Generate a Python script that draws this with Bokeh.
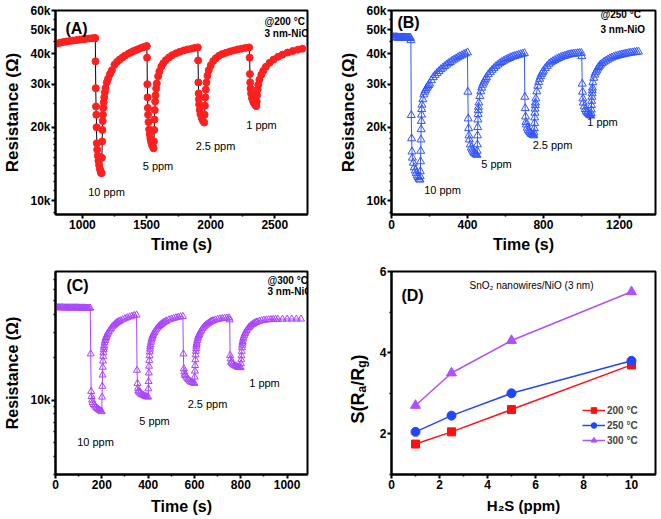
import math
from bokeh.plotting import figure
from bokeh.models import (Range1d, FixedTicker, Label, Legend, LegendItem,
                          ColumnDataSource, GridBox)
from bokeh.embed import file_html
from bokeh.resources import INLINE

# ---------------- data (time in s, resistance in kOhm) ----------------
A_time = [800, 825, 850, 875, 900, 925, 950, 975, 1000, 1025, 1050, 1075, 1098,
          1100, 1102, 1104, 1106, 1108, 1110, 1112, 1115, 1120, 1125, 1130, 1135, 1140, 1145, 1150,
          1152, 1154, 1156, 1158, 1160, 1163, 1166, 1170, 1175, 1180, 1190, 1200, 1215, 1230,
          1250, 1270, 1290, 1310, 1330, 1360, 1380, 1400, 1420, 1440, 1460, 1480, 1500,
          1502, 1504, 1506, 1508, 1510, 1512, 1515, 1520, 1525, 1530, 1535, 1540, 1545, 1550, 1555,
          1558, 1560, 1562, 1564, 1567, 1570, 1575, 1580, 1590, 1600, 1615, 1630, 1650, 1675,
          1700, 1730, 1760, 1790, 1820, 1850, 1875, 1900,
          1902, 1904, 1906, 1908, 1910, 1915, 1920, 1930, 1940, 1950,
          1953, 1955, 1958, 1962, 1967, 1975, 1985, 2000, 2020, 2040, 2065, 2090, 2120, 2150,
          2180, 2210, 2240, 2270, 2300,
          2304, 2306, 2308, 2311, 2315, 2322, 2332, 2342, 2352, 2356,
          2359, 2362, 2366, 2371, 2380, 2395, 2410, 2430, 2460, 2490, 2525, 2560, 2600, 2640,
          2680, 2715]
A_res_k = [44.0, 44.3, 44.6, 44.8, 45.0, 45.2, 45.4, 45.6, 45.8, 45.9, 46.1, 46.2, 46.3,
           46.2, 37.2, 28.9, 24.3, 22.5, 20.0, 17.2, 16.2, 15.3, 14.6, 14.0, 13.6, 13.3, 13.0, 13.0,
           15.0, 17.5, 19.5, 21.2, 22.5, 24.0, 25.3, 26.5, 27.8, 28.9, 30.5, 31.6, 33.0, 34.2,
           36.0, 37.0, 37.8, 38.5, 39.2, 40.0, 40.5, 41.0, 41.4, 41.8, 42.2, 42.6, 42.9,
           42.9, 38.5, 30.0, 26.5, 24.0, 22.5, 21.0, 19.6, 18.7, 18.0, 17.5, 17.1, 16.8, 16.6, 16.4,
           17.5, 19.5, 21.5, 23.5, 25.5, 27.0, 28.8, 30.2, 32.3, 33.8, 35.4, 36.5, 37.6, 38.6,
           39.4, 40.1, 40.7, 41.2, 41.6, 41.9, 42.2, 42.4,
           37.5, 30.5, 27.5, 26.0, 24.8, 23.5, 22.6, 21.8, 21.2, 20.9,
           22.5, 24.5, 26.5, 28.5, 30.5, 32.5, 34.2, 35.8, 37.3, 38.3, 39.2, 39.8, 40.3, 40.8,
           41.2, 41.6, 41.9, 42.2, 42.4,
           38.5, 33.0, 30.5, 28.8, 27.5, 26.3, 25.4, 24.9, 24.5, 24.4,
           25.5, 27.0, 28.5, 29.8, 31.3, 32.8, 34.0, 35.3, 36.7, 37.8, 38.8, 39.6, 40.4, 41.0,
           41.5, 41.9]

B_time = [0, 5, 10, 15, 20, 25, 30, 35, 40, 45, 50, 55, 60, 65, 70, 75, 80, 85, 90, 95, 100,
          102, 104, 106, 108, 110, 115, 120, 125, 130, 135, 140, 145, 150,
          151, 152, 153, 154, 155, 156, 157, 158, 159, 160, 165, 170, 175, 180, 185, 190, 195,
          200, 210, 220, 230, 240, 250, 260, 270, 280, 290, 300, 310, 320, 330, 340, 350, 360,
          370, 380, 390, 400,
          402, 404, 406, 408, 410, 415, 420, 425, 430, 435, 440, 445, 450,
          451, 452, 453, 454, 455, 456, 457, 458, 460, 465, 470, 475, 480, 485, 490, 495, 500,
          510, 520, 530, 540, 550, 560, 570, 580, 590, 600, 610, 620, 630, 640, 650, 660, 670,
          680, 690, 700,
          702, 704, 706, 708, 710, 715, 720, 725, 730, 735, 740, 745, 750,
          751, 752, 753, 754, 755, 756, 757, 758, 760, 765, 770, 775, 780, 785, 790, 795, 800,
          810, 820, 830, 840, 850, 860, 870, 880, 890, 900, 910, 920, 930, 940, 950, 960, 970,
          980, 990, 1000,
          1002, 1004, 1006, 1008, 1010, 1015, 1020, 1025, 1030, 1035, 1040, 1045, 1050,
          1051, 1052, 1053, 1054, 1055, 1056, 1057, 1058, 1060, 1065, 1070, 1075, 1080, 1085,
          1090, 1095, 1100, 1110, 1120, 1130, 1140, 1150, 1160, 1170, 1180, 1190, 1200, 1210,
          1220, 1230, 1240, 1250, 1260, 1270, 1280, 1290, 1300]
B_res_k = [46.6, 46.6, 46.6, 46.6, 46.6, 46.6, 46.6, 46.5, 46.5, 46.5, 46.5, 46.5, 46.5, 46.5,
           46.5, 46.5, 46.4, 46.4, 46.4, 46.4, 46.3,
           45.3, 22.4, 18.0, 15.9, 15.0, 14.3, 13.7, 13.3, 13.0, 12.7, 12.5, 12.3, 12.2,
           12.6, 13.2, 14.5, 16.0, 17.8, 19.6, 21.2, 22.5, 23.7, 24.7, 26.0, 27.2, 27.9, 28.4,
           28.9, 29.3, 29.7,
           30.1, 31.1, 32.0, 32.7, 33.3, 33.9, 34.5, 35.0, 35.5, 36.0, 36.5, 36.9, 37.4, 37.8,
           38.2, 38.6, 39.0, 39.3, 39.7, 40.0, 40.4,
           27.9, 21.7, 19.8, 18.5, 17.8, 17.0, 16.5, 16.2, 15.9, 15.7, 15.6, 15.5, 15.4,
           16.0, 17.0, 18.5, 20.0, 21.5, 22.6, 23.5, 24.2, 25.2, 26.8, 28.0, 29.0, 29.8, 30.4,
           31.0, 31.5, 32.0,
           32.9, 33.6, 34.3, 34.9, 35.5, 36.0, 36.5, 36.9, 37.3, 37.7, 38.0, 38.3, 38.6, 38.9,
           39.1, 39.3, 39.5, 39.7, 39.9, 40.1,
           26.6, 23.9, 22.1, 21.0, 20.5, 19.9, 19.5, 19.2, 19.0, 18.8, 18.7, 18.6, 18.5,
           19.0, 19.8, 20.8, 21.9, 22.9, 23.8, 24.6, 25.2, 26.2, 28.0, 29.5, 30.6, 31.5, 32.3,
           33.0, 33.5, 34.0,
           34.9, 35.6, 36.3, 36.8, 37.2, 37.6, 38.0, 38.3, 38.6, 38.9, 39.1, 39.3, 39.5, 39.7,
           39.8, 39.9, 40.0, 40.1, 40.2, 40.2,
           39.0, 30.1, 27.9, 26.2, 25.2, 24.3, 23.7, 23.3, 23.0, 22.8, 22.6, 22.4, 22.3,
           22.8, 23.6, 24.6, 25.6, 26.6, 27.5, 28.3, 29.0, 30.5, 31.8, 32.8, 33.5, 34.1, 34.7,
           35.2, 35.6, 36.0, 36.5, 37.0, 37.4, 37.8, 38.2, 38.5, 38.8, 39.0, 39.2, 39.4, 39.6,
           39.7, 39.9, 40.0, 40.2, 40.3, 40.4, 40.5, 40.6, 40.7]

C_time = [0, 5, 10, 15, 20, 25, 30, 35, 40, 45, 50, 55, 60, 65, 70, 75, 80, 85, 90, 95, 100,
          105, 110, 115, 120, 125, 130, 135, 140, 145, 150,
          152, 154, 156, 158, 160, 165, 170, 175, 180, 185, 190, 195, 200,
          201, 202, 203, 204, 205, 206, 207, 208, 209, 210, 212, 214, 216, 218, 220, 223, 226,
          230, 235, 240, 245, 250, 255, 260, 265, 270, 275, 280, 290, 300, 310, 320, 330, 340,
          350,
          352, 354, 356, 358, 360, 365, 370, 375, 380, 385, 390, 395, 400,
          401, 402, 403, 404, 405, 406, 407, 408, 409, 410, 412, 414, 416, 418, 420, 423, 426,
          430, 435, 440, 445, 450, 455, 460, 465, 470, 475, 480, 490, 500, 510, 520, 530, 540,
          550,
          552, 554, 556, 558, 560, 565, 570, 575, 580, 585, 590, 595, 600,
          601, 602, 603, 604, 605, 606, 607, 608, 609, 610, 612, 614, 616, 618, 620, 623, 626,
          630, 635, 640, 645, 650, 655, 660, 665, 670, 675, 680, 690, 700, 710, 720, 730, 740,
          750,
          752, 754, 756, 758, 760, 765, 770, 775, 780, 785, 790, 795, 800,
          801, 802, 803, 804, 805, 806, 807, 808, 810, 812, 815, 818, 821, 825, 830, 835, 840,
          845, 850, 855, 860, 865, 870, 880, 890, 900, 910, 920, 930, 940, 950, 960, 980, 1000,
          1020, 1040, 1060]
C_res_k = [44.6, 44.6, 44.6, 44.6, 44.6, 44.6, 44.6, 44.5, 44.5, 44.5, 44.5, 44.5, 44.5, 44.5,
           44.5, 44.5, 44.5, 44.5, 44.5, 44.5, 44.4, 44.4, 44.4, 44.4, 44.4, 44.4, 44.4, 44.3,
           44.3, 44.3, 44.3,
           21.1, 11.5, 10.6, 10.0, 9.6, 9.3, 9.1, 8.9, 8.75, 8.6, 8.5, 8.4, 8.3,
           10.5, 12.5, 15.0, 17.0, 18.8, 20.3, 21.5, 22.6, 23.5, 24.2, 25.3, 26.2, 26.9, 27.5,
           28.1, 28.8, 29.5,
           30.2, 31.1, 31.9, 32.7, 33.3, 33.9, 34.5, 35.0, 35.4, 35.8, 36.1, 36.7, 37.3, 37.9,
           38.4, 38.9, 39.3, 39.6,
           16.2, 13.1, 12.1, 11.6, 11.4, 11.2, 11.0, 10.9, 10.8, 10.7, 10.6, 10.55, 10.5,
           12.0, 13.5, 15.5, 17.3, 19.0, 20.5, 21.8, 22.8, 23.7, 24.4, 25.5, 26.4, 27.1, 27.8,
           28.4, 29.1, 29.8,
           30.5, 31.4, 32.1, 32.8, 33.4, 33.9, 34.4, 34.9, 35.3, 35.7, 36.0, 36.6, 37.1, 37.5,
           37.9, 38.2, 38.5, 38.7,
           21.1, 16.6, 15.8, 15.2, 14.9, 14.5, 14.1, 13.9, 13.6, 13.4, 13.3, 13.2, 13.1,
           14.5, 16.0, 17.5, 19.2, 20.8, 22.0, 23.0, 23.9, 24.6, 25.2, 26.2, 27.0, 27.7, 28.3,
           28.8, 29.5, 30.2,
           30.9, 31.8, 32.5, 33.1, 33.7, 34.2, 34.7, 35.1, 35.5, 35.8, 36.1, 36.5, 36.9, 37.2,
           37.4, 37.6, 37.7, 37.8,
           36.6, 20.6, 19.5, 18.5, 18.2, 17.9, 17.6, 17.4, 17.3, 17.1, 17.0, 16.95, 16.9,
           18.0, 19.2, 20.5, 22.0, 23.3, 24.3, 25.1, 25.8, 26.8, 27.6, 28.5, 29.3, 30.0, 30.8,
           31.6, 32.4, 33.0,
           33.6, 34.0, 34.4, 34.8, 35.1, 35.4, 35.8, 36.1, 36.4, 36.6, 36.7, 36.8, 36.9, 37.0,
           37.0, 37.0, 37.1, 37.1, 37.1, 37.1]

# panel D: sensitivity vs H2S concentration
D_conc = [1, 2.5, 5, 10]
D_s200 = [1.75, 2.05, 2.6, 3.7]
D_s250 = [2.05, 2.45, 3.0, 3.8]
D_s300 = [2.7, 3.5, 4.3, 5.5]
D_labels = ["200 \u00b0C", "250 \u00b0C", "300 \u00b0C"]

# ticks
AB_y_ticks = [10000, 20000, 30000, 40000, 50000, 60000]
AB_y_tick_labels = ["10k", "20k", "30k", "40k", "50k", "60k"]
AB_y_minor = [9000, 11000, 12000, 13000, 14000, 15000, 16000, 17000, 18000, 19000,
              25000, 35000, 45000, 55000]
A_x_ticks = [1000, 1500, 2000, 2500]
A_x_minor = [1250, 1750, 2250]
B_x_ticks = [0, 400, 800, 1200]
B_x_minor = [200, 600, 1000]
C_x_ticks = [0, 200, 400, 600, 800, 1000]
C_x_minor = [100, 300, 500, 700, 900]
C_y_ticks = [10000]
C_y_tick_labels = ["10k"]
C_y_minor = [3000, 4000, 5000, 6000, 7000, 8000, 9000, 20000, 30000, 40000, 50000,
             60000, 70000]
D_x_ticks = [0, 2, 4, 6, 8, 10]
D_x_minor = [1, 3, 5, 7, 9]
D_y_ticks = [2, 4, 6]
D_y_minor = [1, 3, 5]

FONT = "Liberation Sans"
RED = "#ff1f1f"
BLUE = "#3355ff"
PURPLE = "#aa44ff"


def make_fig(w, h, canvas, frame, xr, yr, xlabel, ylabel, xl_size, yl_size,
             xl_standoff, yl_standoff, ylog=False):
    cx, cy = canvas
    L, T, R, B = frame
    p = figure(width=w, height=h, output_backend="svg", toolbar_location=None,
               x_range=Range1d(*xr), y_range=Range1d(*yr),
               y_axis_type="log" if ylog else "linear",
               min_border_left=L - cx, min_border_top=T - cy,
               min_border_right=cx + w - R, min_border_bottom=cy + h - B)
    p.grid.visible = False
    p.outline_line_color = "black"
    p.outline_line_width = 2
    p.outline_line_alpha = 1
    p.background_fill_color = "white"
    p.border_fill_color = "white"
    for ax in (p.xaxis[0], p.yaxis[0]):
        ax.axis_line_width = 2
        ax.major_tick_line_width = 2
        ax.minor_tick_line_width = 1.5
        ax.major_tick_out = 4
        ax.major_tick_in = 0
        ax.minor_tick_out = 2
        ax.minor_tick_in = 0
        ax.major_label_standoff = 1
        ax.major_label_text_font = FONT
        ax.major_label_text_font_style = "bold"
        ax.major_label_text_font_size = "12px"
        ax.major_label_text_color = "black"
        ax.axis_label_text_font = FONT
        ax.axis_label_text_font_style = "bold"
        ax.axis_label_text_color = "black"
    p.xaxis.axis_label = xlabel
    p.xaxis.axis_label_text_font_size = xl_size
    p.xaxis.axis_label_standoff = xl_standoff
    if ylabel:
        p.yaxis.axis_label = ylabel
        p.yaxis.axis_label_text_font_size = yl_size
        p.yaxis.axis_label_standoff = yl_standoff
    return p


def set_ticks(axis, ticks, minor, labels=None):
    axis.ticker = FixedTicker(ticks=ticks, minor_ticks=minor)
    if labels is not None:
        axis.major_label_overrides = {t: l for t, l in zip(ticks, labels)}


def txt(p, frame, x, y, s, size, bold=False, align="center", baseline="middle", angle=0.0):
    # x, y: pixel position on the page; converted to frame-relative screen units
    L, T, R, B = frame
    p.add_layout(Label(x=x - L, y=B - y, x_units="screen", y_units="screen", text=s,
                       text_font=FONT, text_font_size=size,
                       text_font_style="bold" if bold else "normal",
                       text_align=align, text_baseline=baseline, angle=angle,
                       text_color="black"))


RES_LABEL = "Resistance (\u03a9)"

# ---------------- panel A ----------------
fA = (50, 10, 307, 214)
pA = make_fig(330, 260, (0, 0), fA, (790, 2755), (8800, 60000), "Time (s)", RES_LABEL,
              "16px", "17px", 4, 5, ylog=True)
set_ticks(pA.xaxis[0], A_x_ticks, A_x_minor)
set_ticks(pA.yaxis[0], AB_y_ticks, AB_y_minor, AB_y_tick_labels)
srcA = ColumnDataSource(dict(t=A_time, r=[v * 1000 for v in A_res_k]))
pA.line("t", "r", source=srcA, line_color="black", line_width=1)
pA.scatter("t", "r", source=srcA, marker="circle", size=7, fill_color=RED, line_color=RED)
txt(pA, fA, 71, 28, "(A)", "16px", True)
txt(pA, fA, 259, 21, "@200 \u00b0C", "10px", True, align="left")
txt(pA, fA, 259, 32.5, "3 nm-NiO", "10px", True, align="left")
txt(pA, fA, 101, 191, "10 ppm", "11px")
txt(pA, fA, 152.5, 165, "5 ppm", "11px")
txt(pA, fA, 210, 145, "2.5 ppm", "11px")
txt(pA, fA, 256, 124, "1 ppm", "11px")

# ---------------- panel B ----------------
fB = (391, 10, 655, 214)
pB = make_fig(331, 260, (330, 0), fB, (0, 1390), (8800, 60000), "Time (s)", RES_LABEL,
              "16px", "17px", 4, 5, ylog=True)
set_ticks(pB.xaxis[0], B_x_ticks, B_x_minor)
set_ticks(pB.yaxis[0], AB_y_ticks, AB_y_minor, AB_y_tick_labels)
srcB = ColumnDataSource(dict(t=B_time, r=[v * 1000 for v in B_res_k]))
pB.line("t", "r", source=srcB, line_color=BLUE, line_width=1)
pB.scatter("t", "r", source=srcB, marker="triangle", size=8, line_color=BLUE,
           fill_alpha=0, line_width=1)
txt(pB, fB, 408, 22, "(B)", "16px", True)
txt(pB, fB, 600, 14, "@250 \u00b0C", "10px", True, align="left")
txt(pB, fB, 600, 29, "3 nm-NiO", "10px", True, align="left")
txt(pB, fB, 442, 189, "10 ppm", "11px")
txt(pB, fB, 496, 163, "5 ppm", "11px")
txt(pB, fB, 552, 144, "2.5 ppm", "11px")
txt(pB, fB, 602, 121, "1 ppm", "11px")

# ---------------- panel C ----------------
fC = (50, 269, 313, 474)
pC = make_fig(330, 259, (0, 260), fC, (0, 1088), (3000, 80000), "Time (s)", RES_LABEL,
              "16px", "16px", 6, 6, ylog=True)
set_ticks(pC.xaxis[0], C_x_ticks, C_x_minor)
set_ticks(pC.yaxis[0], C_y_ticks, C_y_minor, C_y_tick_labels)
srcC = ColumnDataSource(dict(t=C_time, r=[v * 1000 for v in C_res_k]))
pC.line("t", "r", source=srcC, line_color=PURPLE, line_width=1)
pC.scatter("t", "r", source=srcC, marker="triangle", size=7, line_color=PURPLE,
           fill_alpha=0, line_width=1)
txt(pC, fC, 72, 285, "(C)", "16px", True)
txt(pC, fC, 262, 279.5, "@300 \u00b0C", "10px", True, align="left")
txt(pC, fC, 262, 291, "3 nm-NiO", "10px", True, align="left")
txt(pC, fC, 90, 441, "10 ppm", "11px")
txt(pC, fC, 149, 420, "5 ppm", "11px")
txt(pC, fC, 202, 403, "2.5 ppm", "11px")
txt(pC, fC, 259, 382, "1 ppm", "11px")

# ---------------- panel D ----------------
fD = (389, 271, 655, 474)
pD = make_fig(331, 259, (330, 260), fD, (0, 11), (1, 6), "H\u2082S (ppm)", "",
              "15px", "17px", 5, 22)
set_ticks(pD.xaxis[0], D_x_ticks, D_x_minor)
set_ticks(pD.yaxis[0], D_y_ticks, D_y_minor)
items = []
for ys, col, mk, sz, lab in ((D_s200, "#ff1010", "square", 8, D_labels[0]),
                             (D_s250, "#2046ff", "circle", 9, D_labels[1]),
                             (D_s300, "#b050ff", "triangle", 10, D_labels[2])):
    src = ColumnDataSource(dict(x=D_conc, y=ys))
    ln = pD.line("x", "y", source=src, line_color=col, line_width=1.5)
    sc = pD.scatter("x", "y", source=src, marker=mk, size=sz, fill_color=col, line_color=col)
    items.append(LegendItem(label=lab, renderers=[ln, sc]))
leg = Legend(items=items, location=(191, 27), glyph_width=23, glyph_height=14,
             label_height=14, label_standoff=2, spacing=1, padding=0, margin=0,
             label_text_font=FONT, label_text_font_style="bold",
             label_text_font_size="10px", border_line_alpha=0,
             background_fill_alpha=0)
pD.add_layout(leg)
txt(pD, fD, 410, 295, "(D)", "16px", True)
txt(pD, fD, 529, 285, "SnO\u2082 nanowires/NiO (3 nm)", "10px")

# transparent overlay spanning the grid; its frame is aligned with the panel frames
ov = figure(width=661, height=519, output_backend="svg", toolbar_location=None,
            x_axis_location=None, y_axis_location=None, min_border=0,
            x_range=Range1d(0, 1), y_range=Range1d(0, 1))
ov.outline_line_color = None
ov.background_fill_alpha = 0
ov.border_fill_alpha = 0
ov.grid.visible = False
fOV = (50, 10, 655, 474)
# y label of panel D, S(R_a/R_g), built from pieces reading bottom to top
for s, fs, dx, y0 in (("S(R", "18px", 0, 423), ("a", "12px", 4, 392),
                      ("/R", "18px", 0, 385.3), ("g", "12px", 4, 367.3), (")", "18px", 0, 360)):
    txt(ov, fOV, 352 + dx, y0, s, fs, True, align="left", baseline="alphabetic",
        angle=math.pi / 2)

layout = GridBox(children=[(pA, 0, 0), (pB, 0, 1), (pC, 1, 0), (pD, 1, 1),
                           (ov, 0, 0, 2, 2)], spacing=0)
open("out.html", "w").write(file_html(layout, INLINE))
